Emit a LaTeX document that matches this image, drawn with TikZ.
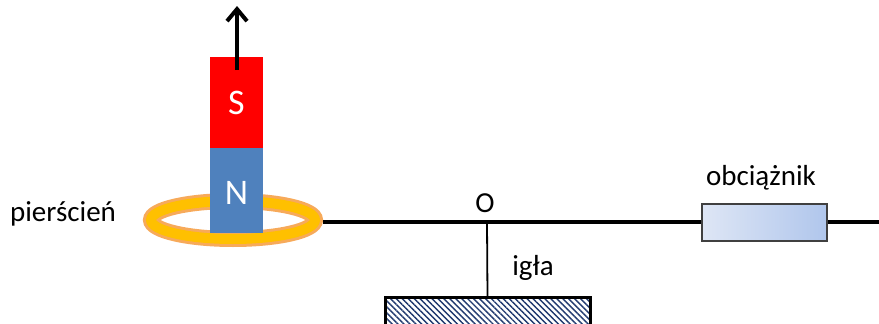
\documentclass[tikz,border=0pt]{standalone}
\usepackage{fontspec}
\setmainfont{Carlito}
\usetikzlibrary{arrows.meta,patterns.meta,shapes.geometric}
\definecolor{magS}{RGB}{255,0,0}
\definecolor{magN}{RGB}{79,129,189}
\definecolor{ringedge}{RGB}{247,170,90}
\definecolor{ringgold}{RGB}{255,192,0}
\definecolor{hatch}{RGB}{31,56,110}
\definecolor{wlight}{RGB}{222,230,245}
\definecolor{wdark}{RGB}{176,198,236}
\begin{document}
\begin{tikzpicture}[x=1pt,y=-1pt,
  lbl/.style={font=\fontsize{29}{34}\selectfont, inner sep=0pt},
  pole/.style={minimum width=53pt, inner sep=0pt, text=white, font=\fontsize{36}{42}\selectfont},
  ringshape/.style={ellipse, inner sep=0pt, minimum width=164pt, minimum height=38pt},
  beam/.style={line width=4pt},
  pullarrow/.style={line width=4pt, -{Straight Barb[length=12pt,width=20pt]}},
]
\useasboundingbox (0,0) rectangle (879,324);

% ring (orange rim with a gold core)
\node[ringshape, draw=ringedge, line width=16pt] (ring) at (233,220) {};
\node[ringshape, draw=ringgold, line width=10pt] (ringcore) at (ring.center) {};

% horizontal rod
\coordinate (rodend) at (879,222);
\coordinate (pivot) at (487,222);
\draw[beam] (ring.east |- rodend) -- (rodend);

% weight
\node[draw=black!75, line width=1.3pt, minimum width=125pt, minimum height=37pt,
      inner sep=0pt, left color=wlight, right color=wdark] (weight) at (764.5,222.5) {};

% needle and hatched stand
\node[draw=black, line width=3pt, minimum width=205pt, minimum height=30pt, inner sep=0pt,
      pattern={Lines[angle=-45,distance=4.2pt,line width=1.4pt]}, pattern color=hatch]
      (base) at (487.5,312) {};
\draw[line width=1.8pt] (pivot) -- (base.north);

% magnet
\node[pole, fill=magS, minimum height=91pt] (S) at (236.5,102.5) {};
\node[pole, fill=magN, minimum height=85pt] (N) at (236.5,190.5) {};
\node[pole] (Slbl) at (236.5,103) {S};
\node[pole] (Nlbl) at (236.5,193) {N};
\coordinate (tail) at (237,70);
\coordinate (pull) at (237,6);
\draw[pullarrow] (tail) -- (pull);

% labels
\node[lbl] (lO) at (485,203) {O};
\node[lbl] (ligla) at (533,268) {igła};
\node[lbl] (lweight) at (761,178) {obciążnik};
\node[lbl] (lring) at (63,214) {pierścień};
\end{tikzpicture}
\end{document}
